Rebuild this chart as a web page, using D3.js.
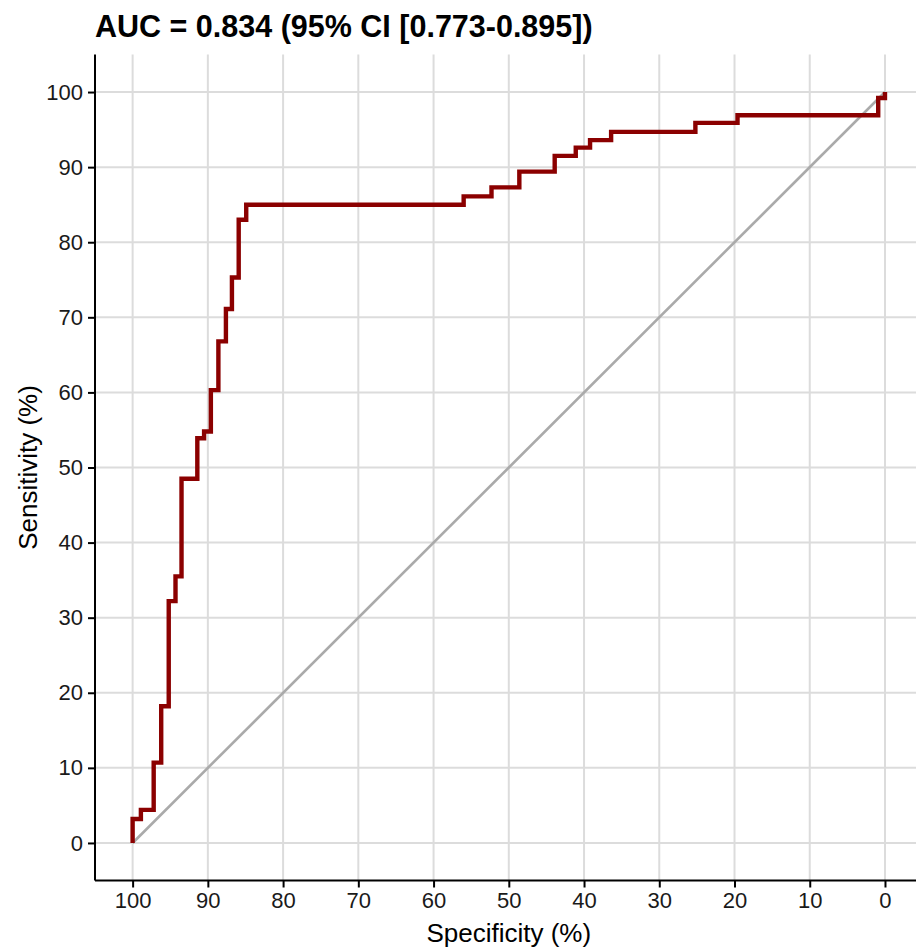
<!DOCTYPE html>
<html><head><meta charset="utf-8">
<script src="https://cdn.jsdelivr.net/npm/d3@7"></script>
<style>body{margin:0;background:#fff}svg{display:block}</style>
</head><body>
<script>
const titleText = "AUC = 0.834 (95% CI [0.773-0.895])";
const xLabel = "Specificity (%)";
const yLabel = "Sensitivity (%)";
const ticks = [0,10,20,30,40,50,60,70,80,90,100];
const specificity = [100,100,98.9,97.2,96.2,95.2,94.3,93.5,91.4,90.5,89.6,88.6,87.6,86.8,85.9,84.9,56.0,52.3,48.6,43.9,41.1,39.2,36.4,25.2,19.6,0.9,0];
const sensitivity = [0,3.2,4.4,10.7,18.2,32.2,35.5,48.5,53.9,54.8,60.3,66.8,71.1,75.3,83.0,85.0,86.1,87.3,89.4,91.5,92.6,93.6,94.7,95.9,96.9,99.2,100];
const diagonal = [[100,0],[0,100]];

const W=916,H=952;
const svg=d3.select("body").append("svg").attr("width",W).attr("height",H);
const font="Liberation Sans, Arial, sans-serif";
const L=95, R=922.6, T=54.5, B=880.5;
const x=d3.scaleLinear().domain([105,-5]).range([L,R]);
const y=d3.scaleLinear().domain([-5,105]).range([B,T]);

// grid
const g=svg.append("g");
g.selectAll(".vx").data(ticks).join("line")
  .attr("x1",d=>x(d)).attr("x2",d=>x(d)).attr("y1",T).attr("y2",B)
  .attr("stroke","#dcdcdc").attr("stroke-width",2);
g.selectAll(".hy").data(ticks).join("line")
  .attr("y1",d=>y(d)).attr("y2",d=>y(d)).attr("x1",L).attr("x2",R)
  .attr("stroke","#dcdcdc").attr("stroke-width",2);

// diagonal
svg.append("path").datum(diagonal)
  .attr("d",d3.line().x(d=>x(d[0])).y(d=>y(d[1])))
  .attr("fill","none").attr("stroke","#aaaaaa").attr("stroke-width",2.6);

// ROC curve
const pts=specificity.map((s,i)=>[s,sensitivity[i]]);
svg.append("path").datum(pts)
  .attr("d",d3.line().x(d=>x(d[0])).y(d=>y(d[1])).curve(d3.curveStepAfter))
  .attr("fill","none").attr("stroke","#8b0000").attr("stroke-width",4.4)
  .attr("stroke-linejoin","miter").attr("stroke-linecap","butt");

// axes
const xa=svg.append("g").attr("transform",`translate(0,${B})`)
  .call(d3.axisBottom(x).tickValues(ticks).tickSize(7).tickPadding(5).tickFormat(d3.format("d")));
const ya=svg.append("g").attr("transform",`translate(${L},0)`)
  .call(d3.axisLeft(y).tickValues(ticks).tickSize(7).tickPadding(5).tickFormat(d3.format("d")));
[xa,ya].forEach(a=>{
  a.select(".domain").attr("stroke","#000").attr("stroke-width",2);
  a.selectAll(".tick line").attr("stroke","#000").attr("stroke-width",2);
  a.selectAll(".tick text").attr("fill","#1a1a1a").attr("font-family",font).attr("font-size",22);
});
xa.select(".domain").attr("d",`M${L},0H${R}`);
ya.select(".domain").attr("d",`M0,${B}V${T}`);

// labels
svg.append("text").attr("x",(L+R)/2).attr("y",942).attr("text-anchor","middle")
  .attr("font-family",font).attr("font-size",26).attr("fill","#000").text(xLabel);
svg.append("text").attr("transform",`translate(37,${(T+B)/2}) rotate(-90)`).attr("text-anchor","middle")
  .attr("font-family",font).attr("font-size",26).attr("fill","#000").text(yLabel);
svg.append("text").attr("x",L).attr("y",37).attr("font-family",font).attr("font-weight","bold")
  .attr("font-size",30.5).attr("fill","#000").text(titleText);
</script>
</body></html>
